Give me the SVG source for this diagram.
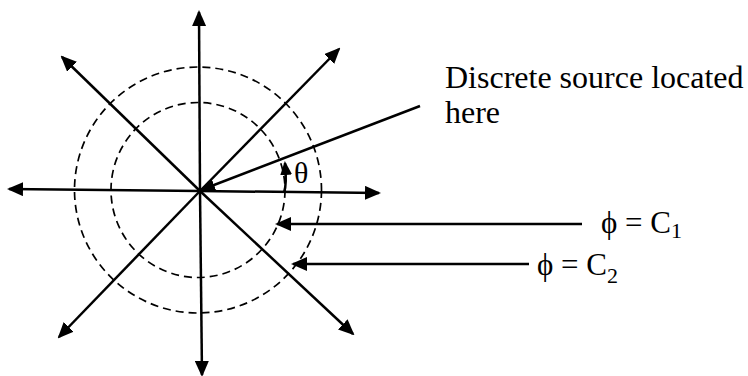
<svg xmlns="http://www.w3.org/2000/svg" width="748" height="376" viewBox="0 0 748 376">
<style>
.ln{stroke:#000;stroke-width:2.5;fill:none}
.ar{marker-end:url(#ah)}
.dash{stroke:#000;stroke-width:1.7;fill:none;stroke-dasharray:8 5}
.t{font-family:"Liberation Serif","Times New Roman",serif;fill:#000}
</style>
<defs>
<marker id="ah" viewBox="0 0 16 14" refX="14" refY="7" markerWidth="16" markerHeight="14" markerUnits="userSpaceOnUse" orient="auto">
<path d="M0,0 L16,7 L0,14 z" fill="#000"/>
</marker>
<marker id="sm" viewBox="0 0 14 12" refX="12" refY="6" markerWidth="14" markerHeight="12" markerUnits="userSpaceOnUse" orient="auto">
<path d="M0,0 L14,6 L0,12 z" fill="#000"/>
</marker>
</defs>
<g id="circles">
<ellipse class="dash" cx="198" cy="190" rx="123.5" ry="123"/>
<ellipse class="dash" cx="198" cy="190" rx="87" ry="87.5"/>
</g>
<g id="connectors">
<line class="ln ar" x1="200" y1="191" x2="199" y2="12"/>
<line class="ln ar" x1="200" y1="191" x2="202" y2="375"/>
<line class="ln ar" x1="200" y1="191" x2="9" y2="189"/>
<line class="ln ar" x1="200" y1="191" x2="379" y2="193"/>
<line class="ln ar" x1="200" y1="191" x2="339" y2="49"/>
<line class="ln ar" x1="200" y1="191" x2="59" y2="337"/>
<line class="ln ar" x1="200" y1="191" x2="62" y2="57"/>
<line class="ln ar" x1="200" y1="191" x2="353" y2="334"/>
<line class="ln ar" x1="420" y1="106" x2="201" y2="190"/>
<path class="ln" d="M284,193 Q287,184 285,163" marker-end="url(#sm)"/>
<line class="ln ar" x1="582" y1="224" x2="277" y2="224"/>
<line class="ln ar" x1="529" y1="264" x2="293" y2="264"/>
</g>
<g id="label-source">
<text class="t" x="445" y="88" font-size="32">Discrete source located</text>
<text class="t" x="445" y="123" font-size="32">here</text>
</g>
<g id="label-theta">
<text class="t" x="294" y="183" font-size="30">θ</text>
</g>
<g id="label-c1">
<text class="t" x="601" y="233" font-size="31">ϕ = C<tspan font-size="22" dy="5">1</tspan></text>
</g>
<g id="label-c2">
<text class="t" x="537" y="275" font-size="31">ϕ = C<tspan font-size="22" dy="8">2</tspan></text>
</g>
</svg>
